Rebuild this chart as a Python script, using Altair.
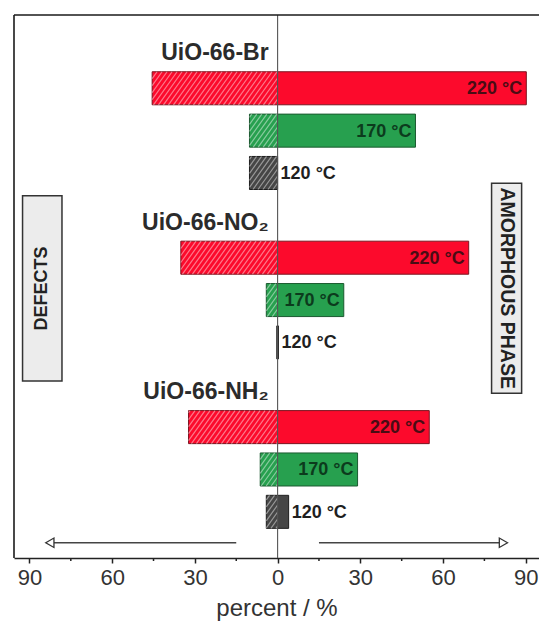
import altair as alt
import pandas as pd

# ---------------- data ----------------
samples = ["UiO-66-Br", "UiO-66-NO₂", "UiO-66-NH₂"]
temps = ["220 °C", "170 °C", "120 °C"]
# percent of defects (plotted to the left) and amorphous phase (to the right)
defects = [[45.5, 10.2, 10.2], [35.1, 4.1, 0.3], [32.3, 6.3, 4.1]]
amorphous = [[90.2, 50.0, 0.0], [69.3, 24.0, 0.3], [55.0, 29.0, 4.0]]
tick_values = [-90, -60, -30, 0, 30, 60, 90]
minor_ticks = [-75, -45, -15, 15, 45, 75]
side_labels = ["DEFECTS", "AMORPHOUS PHASE"]

# ---------------- styles ----------------
bar_fill = ["#fc0a2c", "#27a04f", "#464646"]
bar_stroke = ["#7a1520", "#1b5a30", "#1e1e1e"]
text_color = ["#4a0c14", "#0c3b1d", "#1f1f1f"]
FONT = "Liberation Sans"

W, H = 525, 543
XD = [-95.6, 94.8]
YD = [-0.73, 12.09]
HALF = 0.39

xs = alt.Scale(domain=XD, nice=False, zero=False)
ys = alt.Scale(domain=YD, reverse=True, nice=False, zero=False)

x_axis = alt.Axis(values=tick_values, labelExpr="'' + abs(datum.value)", title="percent / %",
                  grid=False, tickSize=5, tickWidth=1.5, tickColor="#222", domainColor="#222",
                  domainWidth=1.6, labelFontSize=22, labelColor="#333", labelPadding=4,
                  labelFlush=False, titleFontSize=24, titleFontWeight="normal", titleColor="#333",
                  titlePadding=8, labelFont=FONT, titleFont=FONT)


def X(field):
    return alt.X(field, scale=xs, axis=x_axis)


def Y(field):
    return alt.Y(field, scale=ys, axis=None)


rows = []
for i, s in enumerate(samples):
    for j, t in enumerate(temps):
        slot = 4 * i + 1 + j
        rows.append(dict(sample=s, temp=t, left=-defects[i][j], right=amorphous[i][j],
                         slot=slot, y0=slot - HALF, y1=slot + HALF))
bars = pd.DataFrame(rows)

# hatch lines over the defect (negative) part of each bar, computed from the bar values
kx = W / (XD[1] - XD[0])
ky = H / (YD[1] - YD[0])
m = 1.4          # slope of the hatch lines (screen px)
db = 7.0         # spacing parameter
hrows = []
for r in rows:
    uL, uR = r["left"] * kx, 0.0
    if uR - uL < 2:
        continue
    vT, vB = (r["y0"] - YD[0]) * ky, (r["y1"] - YD[0]) * ky
    bmin, bmax = m * uL + vT, m * uR + vB
    k = int(bmin // db)
    while k * db <= bmax:
        b = k * db
        va = max(vT, b - m * uR)
        vb = min(vB, b - m * uL)
        if vb - va > 0.8:
            ua, ub = (b - va) / m, (b - vb) / m
            hrows.append(dict(x=ua / kx, x2=ub / kx, y=va / ky + YD[0], y2=vb / ky + YD[0]))
        k += 1
hatch = pd.DataFrame(hrows)

bar_layer = alt.Chart(bars).mark_rect(strokeWidth=1).encode(
    x=X("left:Q"), x2="right:Q", y=Y("y0:Q"), y2="y1:Q",
    fill=alt.Fill("temp:N", scale=alt.Scale(domain=temps, range=bar_fill), legend=None),
    stroke=alt.Stroke("temp:N", scale=alt.Scale(domain=temps, range=bar_stroke), legend=None),
)

hatch_layer = alt.Chart(hatch).mark_rule(color="white", opacity=0.45, strokeWidth=1.2).encode(
    x=X("x:Q"), x2="x2:Q", y=Y("y:Q"), y2="y2:Q",
)

zero_line = alt.Chart(pd.DataFrame({"v": [0]})).mark_rule(color="#555", strokeWidth=1.1).encode(
    x=X("v:Q"), y=alt.value(0), y2=alt.value(H)
)

temp_color = alt.Color("temp:N", scale=alt.Scale(domain=temps, range=text_color), legend=None)
inside_text = alt.Chart(bars).transform_filter("datum.temp != '120 °C'").mark_text(
    align="right", baseline="middle", dx=-4, dy=1, font=FONT, fontSize=18, fontWeight="bold"
).encode(x=X("right:Q"), y=Y("slot:Q"), text="temp:N", color=temp_color)
outside_text = alt.Chart(bars).transform_filter("datum.temp == '120 °C'").mark_text(
    align="left", baseline="middle", dx=3, dy=1, font=FONT, fontSize=18, fontWeight="bold"
).encode(x=X("right:Q"), y=Y("slot:Q"), text="temp:N", color=temp_color)

grp = pd.DataFrame({"sample": samples, "slot": [4 * i + 0.17 for i in range(len(samples))], "v": 0})
group_text = alt.Chart(grp).mark_text(
    align="right", baseline="middle", dx=-9, font=FONT, fontSize=23, fontWeight="bold", color="#2b2b2b"
).encode(x=X("v:Q"), y=Y("slot:Q"), text="sample:N")

boxes = pd.DataFrame({"label": side_labels, "x": [-92.5, 77.6], "x2": [-78.2, 88.5],
                      "y": [3.54, 3.24], "y2": [7.91, 8.2], "angle": [270, 90],
                      "fs": [18, 19.5]})
box_layer = alt.Chart(boxes).mark_rect(fill="#ececec", stroke="#333", strokeWidth=1.5).encode(
    x=X("x:Q"), x2="x2:Q", y=Y("y:Q"), y2="y2:Q")
box_text = alt.Chart(boxes).transform_calculate(
    xc="(datum.x + datum.x2) / 2", yc="(datum.y + datum.y2) / 2"
).mark_text(align="center", baseline="middle", font=FONT, fontWeight="bold",
            color="#222").encode(
    x=X("xc:Q"), y=Y("yc:Q"), text="label:N", angle=alt.Angle("angle:Q", scale=None),
    size=alt.Size("fs:Q", scale=None, legend=None))

arrows = pd.DataFrame({"dir": ["left", "right"], "start": [-15, 15], "head": [-82.6, 81.9],
                       "yy": [11.73, 11.73]})
arrow_line = alt.Chart(arrows).mark_rule(color="#444", strokeWidth=1.5).encode(
    x=X("start:Q"), x2="head:Q", y=Y("yy:Q"))
arrow_head = alt.Chart(arrows).mark_point(filled=True, fill="white", stroke="#333", strokeWidth=1.3,
                                          size=90, opacity=1).encode(
    x=X("head:Q"), y=Y("yy:Q"),
    shape=alt.Shape("dir:N", scale=alt.Scale(domain=["left", "right"],
                                             range=["triangle-left", "triangle-right"]), legend=None))

minor = alt.Chart(pd.DataFrame({"v": minor_ticks})).mark_rule(color="#222", strokeWidth=1.5).encode(
    x=X("v:Q"), y=alt.value(H), y2=alt.value(H + 3))

frame_df = pd.DataFrame({"a": [0]})
top_frame = alt.Chart(frame_df).mark_rule(color="#1a1a1a", strokeWidth=1.6).encode(
    x=alt.value(0), x2=alt.value(W), y=alt.value(0))
left_frame = alt.Chart(frame_df).mark_rule(color="#1a1a1a", strokeWidth=1.6).encode(
    x=alt.value(0), y=alt.value(0), y2=alt.value(H))

chart = alt.layer(
    box_layer, bar_layer, hatch_layer, zero_line, inside_text, outside_text, group_text,
    box_text, arrow_line, arrow_head, minor, top_frame, left_frame
).properties(
    width=W, height=H,
    padding={"left": 14, "top": 15, "right": 0, "bottom": 67},
    autosize=alt.AutoSizeParams(type="none"),
).configure_view(stroke=None).configure_axis(labelFont=FONT, titleFont=FONT)

chart.save("out.html", embed_options={"renderer": "svg", "actions": False})
